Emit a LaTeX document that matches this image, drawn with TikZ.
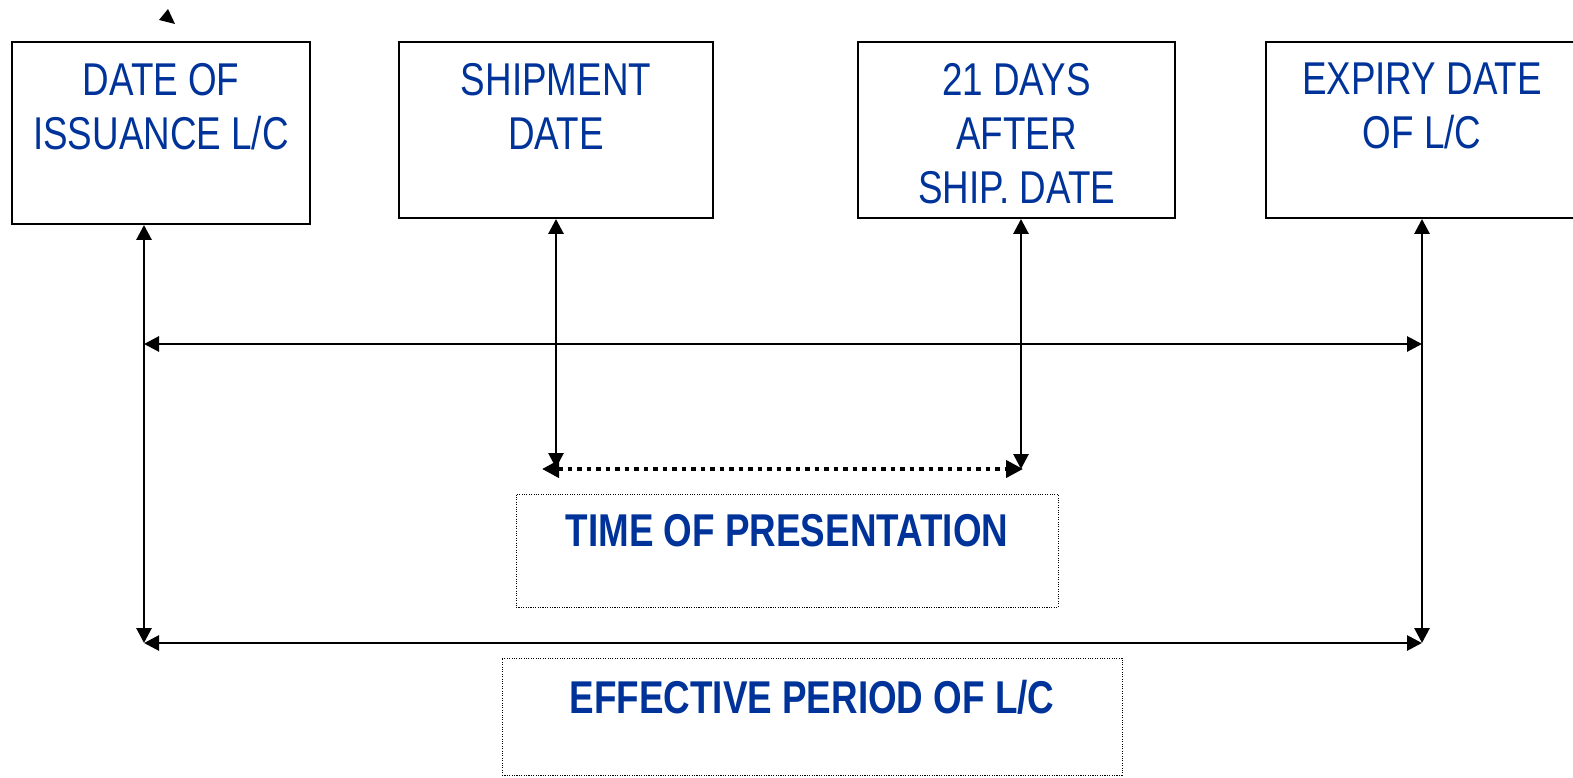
\documentclass[tikz,border=0pt]{standalone}
\usepackage{fontspec}
\setmainfont{Liberation Sans}[FakeStretch=0.8]
\usetikzlibrary{arrows.meta}
\definecolor{lcblue}{RGB}{0,51,153}
\tikzset{
  datebox/.style={draw, line width=1.9pt, inner sep=0pt},
  datetext/.style={text=lcblue, font=\fontsize{46}{54}\selectfont, align=center, anchor=north, inner sep=0pt},
  spanbox/.style={draw, line width=0.9pt, dash pattern=on 1.1pt off 1.3pt, inner sep=0pt},
  spantext/.style={text=lcblue, font=\fontsize{46}{55}\selectfont\bfseries, anchor=north, inner sep=0pt},
  link/.style={line width=2.8pt, {Triangle[length=15pt,width=15pt]}-{Triangle[length=15pt,width=15pt]}},
  dotlink/.style={line width=4pt, dash pattern=on 4.5pt off 5pt, {Triangle[length=17pt,width=17pt]}-{Triangle[length=17pt,width=17pt]}},
}
\begin{document}
\begin{tikzpicture}[x=1pt, y=-1pt]
\useasboundingbox (0,0) rectangle (1573,778);

% date boxes along the top
\node[datebox, minimum width=298pt, minimum height=182pt] (b1) at (161,133) {};
\node[datebox, minimum width=314pt, minimum height=176pt] (b2) at (556,130) {};
\node[datebox, minimum width=317pt, minimum height=176pt] (b3) at (1016.5,130) {};
\node[datebox, minimum width=312pt, minimum height=176pt] (b4) at (1422,130) {};

\node[datetext] (t1) at ([yshift=-22pt]b1.north) {DATE OF\\ISSUANCE L/C};
\node[datetext] (t2) at ([yshift=-22pt]b2.north) {SHIPMENT\\DATE};
\node[datetext] (t3) at ([yshift=-22pt]b3.north) {21 DAYS\\AFTER\\SHIP. DATE};
\node[datetext] (t4) at ([yshift=-22pt]b4.north) {EXPIRY DATE\\OF L/C};

% loose arrowhead above the first box
\fill (168,9) -- (159,20) -- (175,24) -- cycle;

% period boxes
\node[spanbox, minimum width=542pt, minimum height=113pt] (sb1) at (787,550.5) {};
\node[spantext] (st1) at ([yshift=-21pt]sb1.north) {TIME OF PRESENTATION};
\node[spanbox, minimum width=620pt, minimum height=117pt] (sb2) at (812,716.5) {};
\node[spantext] (st2) at ([yshift=-22pt]sb2.north) {EFFECTIVE PERIOD OF L/C};

% connector end points
\coordinate (p1) at (144,643);
\coordinate (p4) at (1422,643);
\coordinate (m1) at (144,344);
\coordinate (m4) at (1422,344);
\coordinate (s1) at (556,468);
\coordinate (s2) at (1021,469);
\coordinate (d1) at (542,469);
\coordinate (d2) at (1023,469);

% connectors
\draw[link] (b1.south -| p1) -- (p1);
\draw[link] (b4.south -| p4) -- (p4);
\draw[link] (p1) -- (p4);
\draw[link] (m1) -- (m4);
\draw[link] (b2.south -| s1) -- (s1);
\draw[link] (b3.south -| s2) -- (s2);
\draw[dotlink] (d1) -- (d2);
\end{tikzpicture}
\end{document}
